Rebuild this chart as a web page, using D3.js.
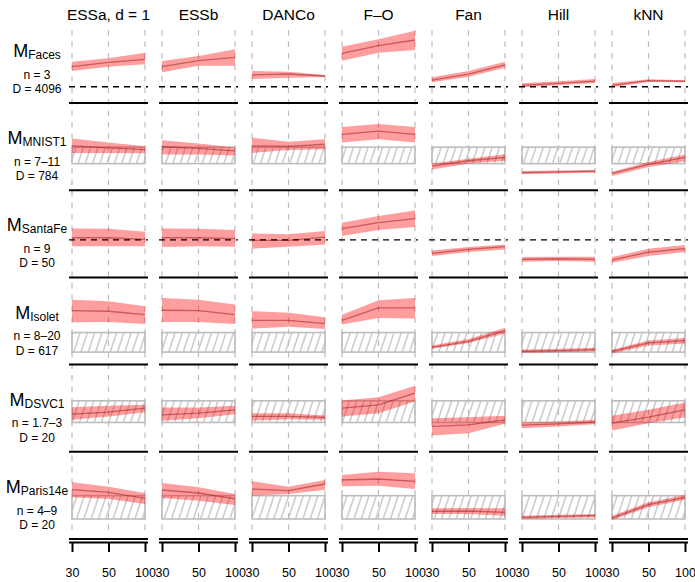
<!DOCTYPE html>
<html>
<head>
<meta charset="utf-8">
<script src="https://d3js.org/d3.v7.min.js"></script>
<style>
  body { margin: 0; background: #fff; }
  text { font-family: "Liberation Sans", Arial, Helvetica, sans-serif; fill: #000; }
</style>
</head>
<body>
<div id="chart"></div>
<script>
// columns, x ticks and row labels
var methods = ["ESSa, d = 1", "ESSb", "DANCo", "F\u2013O", "Fan", "Hill", "kNN"];
var sampleSizes = ["30", "50", "100"];
var manifolds = ["Faces", "MNIST1", "SantaFe", "Isolet", "DSVC1", "Paris14e"];
var nLabels = ["n = 3", "n = 7\u201311", "n = 9", "n = 8\u201320", "n = 1.7\u20133", "n = 4\u20139"];
var dLabels = ["D = 4096", "D = 784", "D = 50", "D = 617", "D = 20", "D = 20"];

// true dimension (single value -> dashed line, range -> hatched box)
var trueLow  = [3, 7, 9, 8, 1.7, 4];
var trueHigh = [3, 11, 9, 20, 3, 9];
// y extent of each row
var yDomains = [[1.75, 10.25], [2, 19], [4.5, 14.5], [4, 47], [0.3, 4.5], [1, 16]];

// estimates, one row per method (ESSa, ESSb, DANCo, F-O, Fan, Hill, kNN), values at n = 30, 50, 100
var facesMid = [[5.43, 5.96, 6.33], [5.43, 6.16, 6.57], [4.42, 4.54, 4.30], [7.06, 7.98, 8.67], [3.81, 4.54, 5.64], [3.17, 3.41, 3.69], [3.17, 3.73, 3.66]];
var facesLo  = [[4.91, 5.43, 5.72], [4.75, 5.55, 5.55], [3.94, 4.09, 4.18], [6.16, 7.13, 7.46], [3.54, 4.22, 5.31], [2.93, 3.17, 3.45], [2.93, 3.57, 3.54]];
var facesHi  = [[6.04, 6.45, 7.13], [6.12, 6.73, 7.54], [4.91, 4.82, 4.42], [7.86, 8.76, 9.80], [4.14, 4.91, 6.04], [3.41, 3.66, 3.94], [3.45, 3.90, 3.78]];

var mnistMid = [[11.3, 10.8, 10.4], [11.1, 10.7, 10.1], [11.3, 11.2, 11.7], [14.1, 14.9, 14.1], [6.4, 7.7, 8.5], [4.8, 5.0, 5.2], [4.6, 6.8, 8.5]];
var mnistLo  = [[9.6, 9.6, 9.5], [9.2, 9.2, 9.0], [9.6, 10.3, 10.5], [12.1, 12.9, 12.1], [5.6, 7.0, 7.7], [4.4, 4.6, 4.8], [4.0, 6.2, 7.6]];
var mnistHi  = [[13.1, 12.1, 11.2], [12.7, 11.9, 10.9], [13.3, 12.3, 12.9], [15.9, 16.6, 15.9], [7.0, 8.2, 9.3], [5.2, 5.3, 5.4], [5.0, 7.4, 9.2]];

var santaMid = [[9.31, 9.31, 9.07], [9.31, 9.31, 9.17], [8.93, 8.93, 9.4], [10.6, 11.46, 12.03], [7.07, 7.64, 8.03], [6.21, 6.31, 6.21], [6.11, 7.26, 7.74]];
var santaLo  = [[8.11, 8.11, 8.11], [7.97, 8.11, 8.03], [7.74, 8.03, 8.36], [9.54, 10.4, 10.83], [6.69, 7.26, 7.64], [5.89, 5.97, 5.89], [5.74, 6.69, 7.26]];
var santaHi  = [[10.64, 10.6, 10.17], [10.64, 10.6, 10.4], [9.93, 9.79, 10.26], [11.46, 12.4, 13.21], [7.5, 7.97, 8.36], [6.54, 6.6, 6.6], [6.54, 7.74, 8.26]];

var isoletMid = [[33.5, 33.1, 31.0], [33.7, 33.5, 31.0], [27.5, 27.5, 25.5], [27.5, 35.1, 35.1], [10.9, 14.6, 21.2], [8.5, 8.9, 9.5], [8.5, 13.6, 15.1]];
var isoletLo  = [[26.3, 26.5, 25.3], [26.5, 26.5, 25.3], [22.4, 23.5, 22.2], [24.9, 29.0, 28.6], [10.0, 13.6, 19.4], [7.5, 7.9, 8.5], [7.1, 12.0, 13.2]];
var isoletHi  = [[40.2, 39.2, 36.1], [41.3, 40.2, 37.2], [33.1, 32.1, 29.4], [31.0, 39.8, 41.3], [12.0, 16.1, 22.9], [9.5, 10.0, 10.6], [9.5, 15.1, 16.7]];

var dsvcMid = [[2.20, 2.32, 2.56], [2.16, 2.26, 2.46], [2.06, 2.06, 2.00], [2.56, 2.76, 3.46], [1.46, 1.56, 1.86], [1.54, 1.62, 1.72], [1.66, 2.02, 2.46]];
var dsvcLo  = [[1.86, 2.06, 2.32], [1.80, 1.96, 2.20], [1.82, 1.90, 1.86], [2.06, 2.26, 2.96], [0.92, 1.06, 1.62], [1.36, 1.46, 1.60], [1.22, 1.66, 2.02]];
var dsvcHi  = [[2.62, 2.70, 2.76], [2.60, 2.60, 2.70], [2.26, 2.26, 2.12], [3.02, 3.22, 3.90], [1.96, 2.02, 2.10], [1.70, 1.76, 1.86], [2.10, 2.46, 2.90]];

var parisMid = [[10.28, 9.72, 8.44], [10.21, 9.57, 8.29], [10.43, 10.06, 11.5], [12.36, 12.57, 12.08], [5.65, 5.71, 5.44], [4.36, 4.58, 4.71], [4.21, 7.06, 8.65]];
var parisLo  = [[8.65, 8.29, 7.21], [8.5, 7.92, 7.0], [8.99, 9.36, 10.28], [11.01, 11.13, 10.43], [5.07, 5.07, 4.71], [4.0, 4.21, 4.36], [3.79, 6.51, 8.14]];
var parisHi  = [[11.86, 10.92, 9.57], [11.71, 10.79, 9.36], [12.08, 10.92, 12.36], [13.43, 14.13, 13.79], [6.29, 6.36, 6.29], [4.71, 4.92, 5.07], [4.71, 7.58, 9.14]];

var mids = [facesMid, mnistMid, santaMid, isoletMid, dsvcMid, parisMid];
var los  = [facesLo, mnistLo, santaLo, isoletLo, dsvcLo, parisLo];
var his  = [facesHi, mnistHi, santaHi, isoletHi, dsvcHi, parisHi];

// layout
var width = 695, height = 582;
var colLeft0 = 72, colStep = 90, panelW = 73;
var rowSep0 = 103, rowStep = 87.2;
var gridTop = 30, axisY = 542.5;

var svg = d3.select("#chart").append("svg")
    .attr("width", width)
    .attr("height", height);

// hatch pattern for the true range boxes
svg.append("defs").append("pattern")
    .attr("id", "hatch")
    .attr("patternUnits", "userSpaceOnUse")
    .attr("width", 7.3)
    .attr("height", 12)
    .attr("patternTransform", "skewX(-18.4)")
  .append("line")
    .attr("x1", 1).attr("x2", 1)
    .attr("y1", -1).attr("y2", 13)
    .attr("stroke", "#b8b8b8")
    .attr("stroke-width", 1.2);

function xScale(c) {
    var left = colLeft0 + c * colStep;
    return d3.scalePoint().domain(sampleSizes).range([left, left + panelW]);
}

// column headers and vertical dashed grid
methods.forEach(function(m, c) {
    var x = xScale(c);
    svg.append("text")
        .attr("x", colLeft0 + c * colStep + panelW / 2)
        .attr("y", 20)
        .attr("text-anchor", "middle")
        .style("font-size", "15.5px")
        .text(m);

    svg.selectAll(null)
        .data(sampleSizes)
        .join("line")
        .attr("x1", function(d) { return x(d); })
        .attr("x2", function(d) { return x(d); })
        .attr("y1", gridTop)
        .attr("y2", rowSep0 + rowStep * 5 - 3)
        .attr("stroke", "#bdbdbd")
        .attr("stroke-width", 1.2)
        .attr("stroke-dasharray", "5.5,6");
});

// rows
manifolds.forEach(function(name, r) {
    var sep = rowSep0 + r * rowStep;
    var y = d3.scaleLinear().domain(yDomains[r]).range([sep - 6, sep - 76]);

    // row label
    var lab = svg.append("text")
        .attr("x", 37)
        .attr("y", sep - 46)
        .attr("text-anchor", "middle");
    lab.append("tspan").style("font-size", "18px").text("M");
    lab.append("tspan").style("font-size", "12px").attr("dy", 2).text(name);

    svg.append("text")
        .attr("x", 37).attr("y", sep - 24.5)
        .attr("text-anchor", "middle")
        .style("font-size", "12px")
        .text(nLabels[r]);
    svg.append("text")
        .attr("x", 37).attr("y", sep - 10)
        .attr("text-anchor", "middle")
        .style("font-size", "12px")
        .text(dLabels[r]);

    methods.forEach(function(m, c) {
        var x = xScale(c);
        var left = x.range()[0], right = x.range()[1];
        var g = svg.append("g");

        if (trueLow[r] !== trueHigh[r]) {
            g.append("rect")
                .attr("x", left)
                .attr("y", y(trueHigh[r]))
                .attr("width", right - left)
                .attr("height", y(trueLow[r]) - y(trueHigh[r]))
                .attr("fill", "url(#hatch)")
                .attr("stroke", "#bdbdbd")
                .attr("stroke-width", 1.6);
        }

        var pts = sampleSizes.map(function(s, i) {
            return { s: s, lo: los[r][c][i], mid: mids[r][c][i], hi: his[r][c][i] };
        });

        var area = d3.area()
            .x(function(d) { return x(d.s); })
            .y0(function(d) { return y(d.lo); })
            .y1(function(d) { return y(d.hi); });
        var line = d3.line()
            .x(function(d) { return x(d.s); })
            .y(function(d) { return y(d.mid); });

        g.append("path")
            .attr("d", area(pts))
            .attr("fill", "rgba(255,0,0,0.38)");
        g.append("path")
            .attr("d", line(pts))
            .attr("fill", "none")
            .attr("stroke", "rgba(150,20,20,0.5)")
            .attr("stroke-width", 1.3);

        if (trueLow[r] === trueHigh[r]) {
            g.append("line")
                .attr("x1", left - 3).attr("x2", right + 3)
                .attr("y1", y(trueLow[r])).attr("y2", y(trueLow[r]))
                .attr("stroke", "#000")
                .attr("stroke-width", 1.4)
                .attr("stroke-dasharray", "6,5");
        }

        // row separator
        g.append("line")
            .attr("x1", left - 3).attr("x2", right + 3)
            .attr("y1", sep).attr("y2", sep)
            .attr("stroke", "#000")
            .attr("stroke-width", 2);
    });
});

// bottom axes
methods.forEach(function(m, c) {
    var x = xScale(c);
    var left = x.range()[0], right = x.range()[1];
    var ax = svg.append("g")
        .attr("transform", "translate(0," + axisY + ")")
        .call(d3.axisBottom(x).tickSizeInner(9.5).tickSizeOuter(0).tickPadding(16));
    ax.select(".domain").remove();
    ax.selectAll(".tick line").attr("stroke", "#000").attr("stroke-width", 2);
    ax.selectAll(".tick text")
        .style("font-size", "12.5px")
        .style("font-family", "'Liberation Sans', Arial, Helvetica, sans-serif")
        .attr("fill", "#000");
    ax.append("line")
        .attr("x1", left - 3).attr("x2", right + 3)
        .attr("y1", 0).attr("y2", 0)
        .attr("stroke", "#000")
        .attr("stroke-width", 2);
});
</script>
</body>
</html>
